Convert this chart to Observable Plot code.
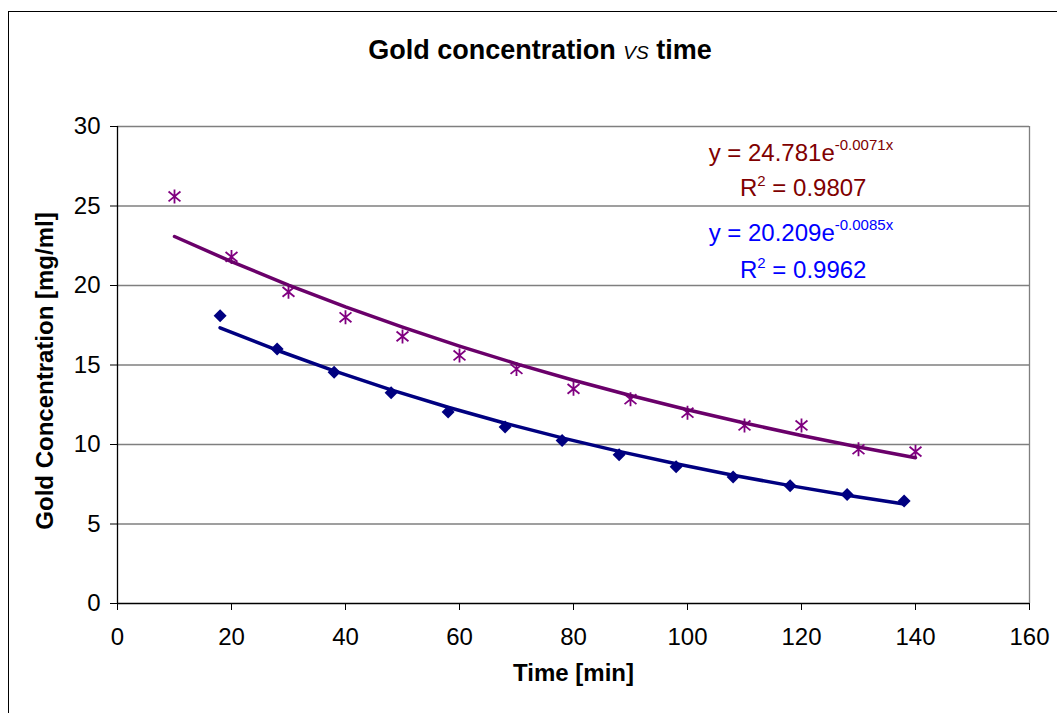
<!DOCTYPE html>
<html><head><meta charset="utf-8">
<script src="https://cdn.jsdelivr.net/npm/d3@7"></script>
<script src="https://cdn.jsdelivr.net/npm/@observablehq/plot@0.6"></script>
<style>
body{margin:0;background:#fff;overflow:hidden;}
#wrap{position:relative;width:1057px;height:713px;overflow:hidden;}
#border{position:absolute;left:8px;top:11px;width:1100px;height:800px;border:1px solid #000;box-sizing:border-box;}
#wrap svg{position:absolute;left:0;top:0;}
</style></head><body><div id="wrap"><div id="border"></div></div>
<script>
// Series 1 (purple stars)
const timeA = [10, 20, 30, 40, 50, 60, 70, 80, 90, 100, 110, 120, 130, 140];
const concA = [25.6, 21.8, 19.6, 18.0, 16.8, 15.6, 14.75, 13.5, 12.85, 12.0, 11.2, 11.2, 9.7, 9.55];
// Series 2 (navy diamonds)
const timeB = [18, 28, 38, 48, 58, 68, 78, 88, 98, 108, 118, 128, 138];
const concB = [18.1, 16.0, 14.55, 13.25, 12.05, 11.1, 10.25, 9.35, 8.6, 7.95, 7.4, 6.85, 6.45];
// Exponential trendline coefficients (as labelled)
const fitCoef = [24.781, 20.209];
const fitExp = [-0.0071, -0.0085];
const eqMain = ["y = 24.781e", "y = 20.209e"];
const eqSup = ["-0.0071x", "-0.0085x"];
const r2Text = [" = 0.9807", " = 0.9962"];
// Axes
const xTicks = [0, 20, 40, 60, 80, 100, 120, 140, 160];
const yTicks = [0, 5, 10, 15, 20, 25, 30];

const ptsA = timeA.map((t, i) => ({t, c: concA[i]}));
const ptsB = timeB.map((t, i) => ({t, c: concB[i]}));
const trendA = timeA.map(t => ({t, c: fitCoef[0] * Math.exp(fitExp[0] * t)}));
const trendB = timeB.map(t => ({t, c: fitCoef[1] * Math.exp(fitExp[1] * t)}));

const starSymbol = {draw(ctx, size) {
  const h = Math.sqrt(size / Math.PI);
  ctx.moveTo(0, -h); ctx.lineTo(0, h);
  ctx.moveTo(-h * 0.85, -h * 0.7); ctx.lineTo(h * 0.85, h * 0.7);
  ctx.moveTo(-h * 0.85, h * 0.7); ctx.lineTo(h * 0.85, -h * 0.7);
}};
const diamondSymbol = {draw(ctx, size) {
  const h = Math.sqrt(size / Math.PI);
  ctx.moveTo(0, -h); ctx.lineTo(h, 0); ctx.lineTo(0, h); ctx.lineTo(-h, 0); ctx.closePath();
}};

const FONT = "'Liberation Sans', Arial, sans-serif";

const plot = Plot.plot({
  width: 1057, height: 713,
  marginLeft: 117, marginRight: 28, marginTop: 126, marginBottom: 110,
  style: {fontFamily: FONT, background: "transparent", color: "#000"},
  x: {domain: [0, 160]},
  y: {domain: [0, 30]},
  marks: [
    Plot.ruleY(yTicks.filter(d => d > 0), {stroke: "#7f7f7f", strokeWidth: 1.3}),
    Plot.ruleX([160], {stroke: "#7f7f7f", strokeWidth: 1.3}),
    Plot.axisY({ticks: yTicks, tickSize: 7, tickPadding: 10, fontSize: 24, label: null, tickFormat: d => String(d)}),
    Plot.axisX({ticks: xTicks, tickSize: 7, tickPadding: 17, fontSize: 24, label: null, tickFormat: d => String(d)}),
    Plot.ruleX([0], {stroke: "#000", strokeWidth: 1.3}),
    Plot.ruleY([0], {stroke: "#000", strokeWidth: 1.3}),
    Plot.dot(ptsA, {x: "t", y: "c", symbol: starSymbol, r: 7, stroke: "#800080", strokeWidth: 1.8, fill: "none"}),
    Plot.dot(ptsB, {x: "t", y: "c", symbol: diamondSymbol, r: 6.5, fill: "#000080", stroke: "none"}),
    Plot.line(trendA, {x: "t", y: "c", stroke: "#6a006a", strokeWidth: 3.5}),
    Plot.line(trendB, {x: "t", y: "c", stroke: "#000080", strokeWidth: 3.5}),
    Plot.text(["Gold Concentration [mg/ml]"], {frameAnchor: "left", textAnchor: "middle", rotate: -90, dx: -72, dy: 6, fontWeight: "bold", fontSize: 24, fill: "#000"}),
    Plot.text(["Time [min]"], {frameAnchor: "bottom", dy: 77, fontWeight: "bold", fontSize: 24, fill: "#000"})
  ]
});
document.getElementById("wrap").appendChild(plot);

const svg = d3.select(plot);
const sx = plot.scale("x"), sy = plot.scale("y");

// Title
const title = svg.append("text")
  .attr("x", 540).attr("y", 59)
  .attr("text-anchor", "middle")
  .attr("font-family", FONT).attr("fill", "#000");
title.append("tspan").attr("font-weight", "bold").attr("font-size", 27).text("Gold concentration ");
title.append("tspan").attr("font-style", "italic").attr("font-size", 19).text("VS");
title.append("tspan").attr("font-weight", "bold").attr("font-size", 27).text(" time");

// Trendline equations
const eqColors = ["#800000", "#0000ff"];
const eqX = [103.8, 103.8];
const eqY = [27.8, 22.75];
const r2X = [109.3, 109.3];
const r2Y = [25.6, 20.45];
for (let i = 0; i < 2; i++) {
  const t = svg.append("text")
    .attr("x", sx.apply(eqX[i])).attr("y", sy.apply(eqY[i]))
    .attr("text-anchor", "start")
    .attr("font-family", FONT).attr("fill", eqColors[i]);
  t.append("tspan").attr("font-size", 24).text(eqMain[i]);
  t.append("tspan").attr("font-size", 15).attr("dy", -11).text(eqSup[i]);
  const r = svg.append("text")
    .attr("x", sx.apply(r2X[i])).attr("y", sy.apply(r2Y[i]))
    .attr("text-anchor", "start")
    .attr("font-family", FONT).attr("fill", eqColors[i]);
  r.append("tspan").attr("font-size", 24).text("R");
  r.append("tspan").attr("font-size", 15).attr("dy", -10).text("2");
  r.append("tspan").attr("font-size", 24).attr("dy", 10).text(r2Text[i]);
}
</script>
</body></html>
